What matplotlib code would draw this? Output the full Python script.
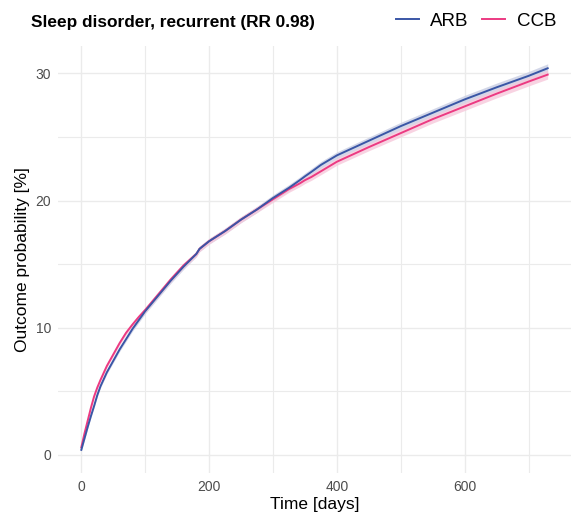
import matplotlib
matplotlib.use("Agg")
import matplotlib.pyplot as plt
import numpy as np

plt.rcParams['font.family'] = ['Liberation Sans', 'DejaVu Sans']

days = [0, 5, 10, 15, 20, 25, 30, 40, 50, 60, 70, 80, 90, 100, 120, 140, 160,
        180, 185, 200, 225, 250, 275, 300, 325, 342, 350, 360, 375, 400, 450,
        500, 550, 600, 650, 700, 730]

arb = [0.4, 1.3, 2.2, 3.05, 3.85, 4.7, 5.4, 6.5, 7.4, 8.3, 9.1, 9.9, 10.6,
       11.3, 12.5, 13.7, 14.8, 15.8, 16.2, 16.8, 17.6, 18.5, 19.3, 20.2, 21.0,
       21.6, 21.9, 22.25, 22.8, 23.55, 24.7, 25.85, 26.9, 27.95, 28.9, 29.8,
       30.4]

ccb = [0.6, 1.7, 2.7, 3.7, 4.6, 5.3, 5.9, 7.0, 7.9, 8.8, 9.6, 10.25, 10.85,
       11.4, 12.6, 13.8, 14.9, 15.8, 16.2, 16.8, 17.6, 18.5, 19.3, 20.1, 20.9,
       21.35, 21.6, 21.85, 22.3, 23.05, 24.2, 25.3, 26.4, 27.4, 28.4, 29.35,
       29.9]

# half width of the confidence band, read at a few times
ci_days = [0, 100, 300, 500, 730]
ci_half = [0.1, 0.2, 0.25, 0.3, 0.35]

arb_col = '#3A56A6'
ccb_col = '#EC3A82'

fig = plt.figure(figsize=(5.71, 5.15), dpi=100)
ax = fig.add_axes([58 / 571, 1 - 473 / 515, 513 / 571, 427 / 515])

t = np.array(days)
hw = np.interp(t, ci_days, ci_half)
for vals, band in [(arb, '#C9CEE3'), (ccb, '#F7C9DB')]:
    v = np.array(vals)
    ax.fill_between(t, v - hw, v + hw, color=band, alpha=0.8, lw=0, zorder=2)

ax.plot(t, ccb, color=ccb_col, lw=1.4, zorder=3)
ax.plot(t, arb, color=arb_col, lw=1.4, zorder=4)

ax.set_xlim(-36.5, 766.5)
ax.set_ylim(-1.42, 32.15)
ax.set_xticks([0, 200, 400, 600])
ax.set_xticks([100, 300, 500, 700], minor=True)
ax.set_yticks([0, 10, 20, 30])
ax.set_yticks([5, 15, 25], minor=True)
ax.grid(which='major', color='#EBEBEB', lw=1.0)
ax.grid(which='minor', color='#EBEBEB', lw=0.8)
ax.set_axisbelow(True)
for s in ax.spines.values():
    s.set_visible(False)
ax.tick_params(which='both', length=0, labelsize=10, labelcolor='#4D4D4D', pad=5)

ax.set_xlabel('Time [days]', fontsize=12.5, labelpad=2)
ax.set_ylabel('Outcome probability [%]', fontsize=12.5, labelpad=4)

fig.text(31 / 571, 1 - 22 / 515, 'Sleep disorder, recurrent (RR 0.98)',
         fontsize=12.4, fontweight='bold', va='center', ha='left')

h_arb, = ax.plot([], [], color=arb_col, lw=1.4)
h_ccb, = ax.plot([], [], color=ccb_col, lw=1.4)
fig.legend([h_arb, h_ccb], ['ARB', 'CCB'], ncol=2, frameon=False,
           loc='center right', bbox_to_anchor=(556 / 571, 1 - 21 / 515),
           fontsize=13.5, handlelength=1.25, handletextpad=0.6,
           columnspacing=0.7, borderpad=0, borderaxespad=0)

fig.savefig('out.png', dpi=100)
